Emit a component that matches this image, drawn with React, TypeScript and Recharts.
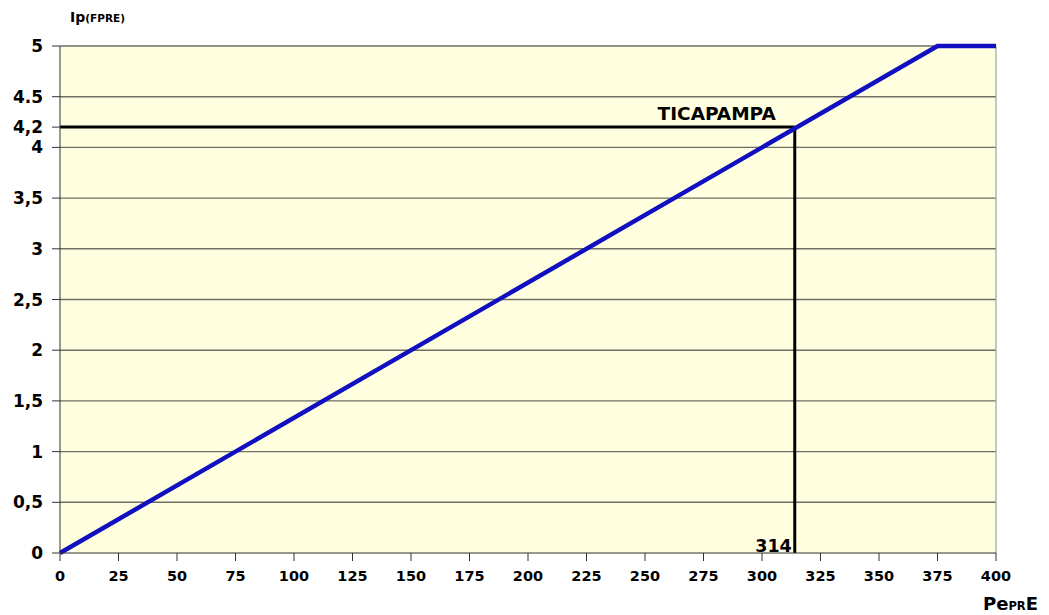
import {
  LineChart,
  Line,
  XAxis,
  YAxis,
  ReferenceLine,
  ReferenceDot,
  ReferenceArea,
} from 'recharts';

// curva Ip(FPRE) vs PePRE
const peValues = [0, 375, 400];
const ipValues = [0, 5, 5];

const xTicks = [0, 25, 50, 75, 100, 125, 150, 175, 200, 225, 250, 275, 300, 325, 350, 375, 400];
const yTicks = [0, 0.5, 1, 1.5, 2, 2.5, 3, 3.5, 4, 4.2, 4.5, 5];
const yTickLabels = ['0', '0,5', '1', '1,5', '2', '2,5', '3', '3,5', '4', '4,2', '4.5', '5'];
const gridValues = [0.5, 1, 1.5, 2, 2.5, 3, 3.5, 4, 4.5, 5];

// punto de la estación
const stationName = 'TICAPAMPA';
const stationPe = 314;
const stationIp = 4.2;

const data = peValues.map((pe, i) => ({ pe, ip: ipValues[i] }));

const font = '"DejaVu Sans", Verdana, sans-serif';

export default function App() {
  return (
    <div style={{ position: 'absolute', left: 0, top: 0, width: 1049, height: 615, background: '#ffffff', fontFamily: font }}>
      <LineChart
        width={1049}
        height={615}
        data={data}
        margin={{ top: 46, right: 53, left: 0, bottom: 32 }}
      >
        {/* fondo amarillo claro del área de trazado */}
        <ReferenceArea x1={0} x2={400} y1={0} y2={5} fill="#ffffe0" fillOpacity={1} stroke="none" />
        <XAxis
          dataKey="pe"
          type="number"
          domain={[0, 400]}
          ticks={xTicks}
          interval={0}
          height={30}
          tickSize={8}
          tickMargin={10}
          stroke="#333"
          tick={{ fill: '#000', fontSize: 14.5, fontWeight: 700, fontFamily: font }}
        />
        <YAxis
          type="number"
          domain={[0, 5]}
          ticks={yTicks}
          interval={0}
          width={60}
          tickSize={8}
          tickMargin={9}
          stroke="#333"
          tickFormatter={(v: number) => yTickLabels[yTicks.indexOf(v)] ?? String(v)}
          tick={{ fill: '#000', fontSize: 17, fontWeight: 700, fontFamily: font }}
        />
        {gridValues.map((g) => (
          <ReferenceLine key={g} y={g} stroke="#6e6e64" strokeWidth={1.4} />
        ))}
        <ReferenceLine x={400} stroke="#a0a098" strokeWidth={1.2} />
        <ReferenceLine
          segment={[{ x: 0, y: stationIp }, { x: stationPe, y: stationIp }]}
          stroke="#000"
          strokeWidth={3}
        />
        <ReferenceLine
          segment={[{ x: stationPe, y: stationIp }, { x: stationPe, y: 0 }]}
          stroke="#000"
          strokeWidth={3}
        />
        <Line
          type="linear"
          dataKey="ip"
          stroke="#1010c0"
          strokeWidth={4.5}
          dot={false}
          isAnimationActive={false}
        />
        <ReferenceDot
          x={stationPe}
          y={stationIp}
          r={0}
          stroke="none"
          label={{
            content: ({ viewBox }: any) => (
              <text x={viewBox.x - 19} y={viewBox.y - 7} textAnchor="end" fontSize={18.5} fontWeight={700} fontFamily={font} fill="#000">
                {stationName}
              </text>
            ),
          }}
        />
        <ReferenceDot
          x={stationPe}
          y={0}
          r={0}
          stroke="none"
          label={{
            content: ({ viewBox }: any) => (
              <text x={viewBox.x - 3} y={viewBox.y - 1} textAnchor="end" fontSize={17.5} fontWeight={700} fontFamily={font} fill="#000">
                {String(stationPe)}
              </text>
            ),
          }}
        />
      </LineChart>
      <div style={{ position: 'absolute', left: 70, top: 8, fontWeight: 700, color: '#000', whiteSpace: 'nowrap', lineHeight: '18px' }}>
        <span style={{ fontSize: 14 }}>Ip</span>
        <span style={{ fontSize: 10.5 }}>(FPRE)</span>
      </div>
      <div style={{ position: 'absolute', left: 983, top: 594, fontWeight: 700, color: '#000', whiteSpace: 'nowrap', lineHeight: '20px' }}>
        <span style={{ fontSize: 18 }}>Pe</span>
        <span style={{ fontSize: 11.5 }}>PR</span>
        <span style={{ fontSize: 18 }}>E</span>
      </div>
    </div>
  );
}
